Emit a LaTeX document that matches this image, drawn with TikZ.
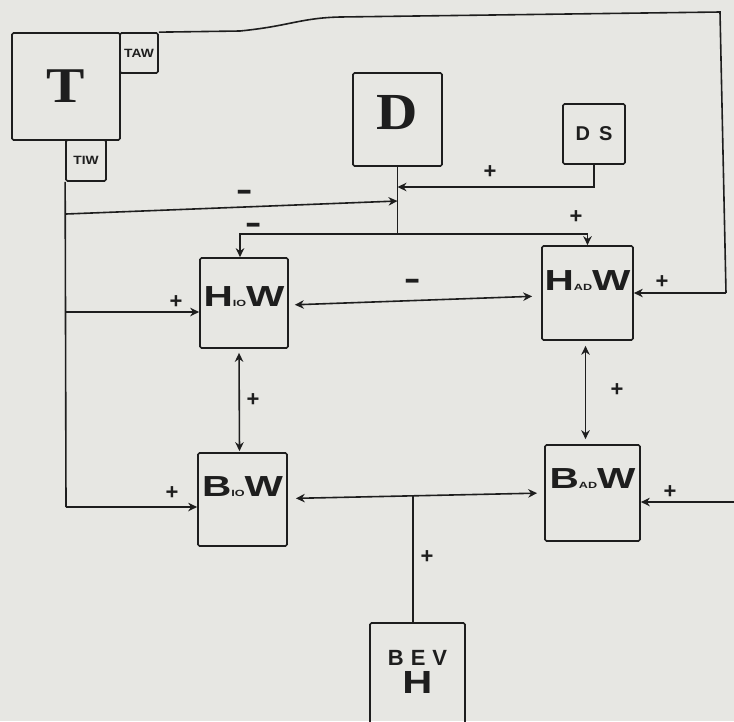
\documentclass[tikz,border=0pt]{standalone}
\usepackage{fontspec}
\setmainfont{Liberation Sans}
\newfontfamily\serifb{Liberation Serif}
\usetikzlibrary{arrows.meta}
\definecolor{paper}{RGB}{231,231,227}
\definecolor{ink}{RGB}{30,30,30}
\newcommand\wlab[2]{\scalebox{1.4}[1]{\fontsize{29}{29}\selectfont\bfseries #1{\fontsize{9}{9}\selectfont #2}W}}
\tikzset{
  box/.style={draw=ink, line width=1.7pt, rounded corners=1.5pt, inner sep=0pt, text=ink},
  ln/.style={draw=ink, line width=1.6pt},
  arr/.style={ln, -{Stealth[length=9pt,width=8.5pt]}},
  darr/.style={ln, {Stealth[length=9pt,width=8.5pt]}-{Stealth[length=9pt,width=8.5pt]}},
  sign/.style={text=ink, font=\fontsize{22}{22}\selectfont\bfseries, inner sep=0pt},
  minus/.style={text=ink, font=\fontsize{16}{16}\selectfont\bfseries, inner sep=0pt},
  wtext/.style={text=ink, inner sep=0pt},
}
\begin{document}
\begin{tikzpicture}[x=1pt,y=-1pt]
\useasboundingbox (0,0) rectangle (734,721);
\fill[paper] (0,0) rectangle (734,721);

% boxes
\node[box, minimum width=108pt, minimum height=107pt] (T) at (66,86.5)
  {\scalebox{1.15}[1]{\serifb\fontsize{50}{50}\selectfont\bfseries T}};
\node[box, minimum width=38pt, minimum height=40pt] (TAW) at (139,53)
  {\scalebox{1.15}[1]{\fontsize{12}{12}\selectfont\bfseries TAW}};
\node[box, minimum width=40pt, minimum height=41pt] (TIW) at (86,160.5)
  {\scalebox{1.15}[1]{\fontsize{12}{12}\selectfont\bfseries TIW}};
\node[box, minimum width=89pt, minimum height=93pt,
  label={[wtext, yshift=7pt]center:{\scalebox{1.1}[1]{\serifb\fontsize{52}{52}\selectfont\bfseries D}}}] (D) at (397.5,119.5) {};
\node[box, minimum width=62pt, minimum height=60pt] (DS) at (594,134)
  {\fontsize{20}{20}\selectfont\bfseries D\hspace{9pt}S};
\node[box, minimum width=88pt, minimum height=90pt,
  label={[wtext, yshift=6pt]center:{\wlab{H}{IO}}}] (HioW) at (244,303) {};
\node[box, minimum width=91pt, minimum height=94pt,
  label={[wtext, yshift=12pt]center:{\wlab{H}{AD}}}] (HadW) at (587.5,293) {};
\node[box, minimum width=89pt, minimum height=93pt,
  label={[wtext, yshift=13pt]center:{\wlab{B}{IO}}}] (BioW) at (242.5,499.5) {};
\node[box, minimum width=95pt, minimum height=96pt,
  label={[wtext, yshift=14pt]center:{\wlab{B}{AD}}}] (BadW) at (592.5,493) {};
\node[box, minimum width=95pt, minimum height=137pt,
  label={[wtext, yshift=20pt, align=center]center:{\fontsize{22}{22}\selectfont\bfseries B\hspace{7pt}E\hspace{7pt}V\\[5pt]\scalebox{1.3}[1]{\fontsize{32}{32}\selectfont\bfseries H}}}] (BEV) at (417.5,691.5) {};

% coordinates
\coordinate (tv1) at (66,214);
\coordinate (tv2) at (66,312);
\coordinate (tv3) at (66,507);
\coordinate (dj1) at (397.5,201);
\coordinate (dj2) at (397.5,187);
\coordinate (dj3) at (397.5,234);
\coordinate (tr0) at (240,31);
\coordinate (tr1) at (340,17);
\coordinate (tr2) at (720,12);
\coordinate (tr3) at (726,293);
\coordinate (br) at (736,502);
\coordinate (bj) at (413,496);

% connectors
\draw[ln] (TIW.south west) -- (tv3);
\draw[arr] (tv3) -- (BioW.west |- tv3);
\draw[arr] (tv2) -- (HioW.west |- tv2);
\draw[arr] (tv1) -- (dj1);
\draw[ln] (D.south) -- (dj3);
\draw[arr] (DS.south) |- (dj2);
\draw[arr] (dj3) -| ([xshift=-4pt]HioW.north);
\draw[arr] (dj3) -| (HadW.north);
\draw[ln] (TAW.north east) -- (tr0) .. controls (290,26) and (300,18) .. (tr1) -- (tr2) -- (tr3);
\draw[arr] (tr3) -- (HadW.east |- tr3);
\draw[arr] (br) -- (BadW.east |- br);
\draw[darr, shorten <=6pt, shorten >=9pt] ([yshift=-2pt]HioW.east) -- ([yshift=-3pt]HadW.west);
\draw[darr, shorten <=4pt, shorten >=1pt] ([xshift=-5pt]HioW.south) -- ([xshift=-3pt]BioW.north);
\draw[darr, shorten <=5pt, shorten >=5pt] ([xshift=-2pt]HadW.south) -- ([xshift=-7pt]BadW.north);
\draw[darr, shorten <=8pt, shorten >=7pt] ([yshift=1pt]BioW.east) -- (BadW.west);
\draw[ln] (bj) -- (bj |- BEV.north);

% signs
\node[sign] (p1) at (490,172) {+};
\node[minus] (m1) at (245,196) {\scalebox{1.6}[2.4]{–}};
\node[minus] (m2) at (254,229) {\scalebox{1.6}[2.4]{–}};
\node[sign] (p2) at (576,217) {+};
\node[sign] (p3) at (176,302) {+};
\node[minus] (m3) at (413,285) {\scalebox{1.6}[2.4]{–}};
\node[sign] (p4) at (662,282) {+};
\node[sign] (p5) at (253,400) {+};
\node[sign] (p6) at (617,390) {+};
\node[sign] (p7) at (172,493) {+};
\node[sign] (p8) at (670,492) {+};
\node[sign] (p9) at (427,557) {+};
\end{tikzpicture}
\end{document}
